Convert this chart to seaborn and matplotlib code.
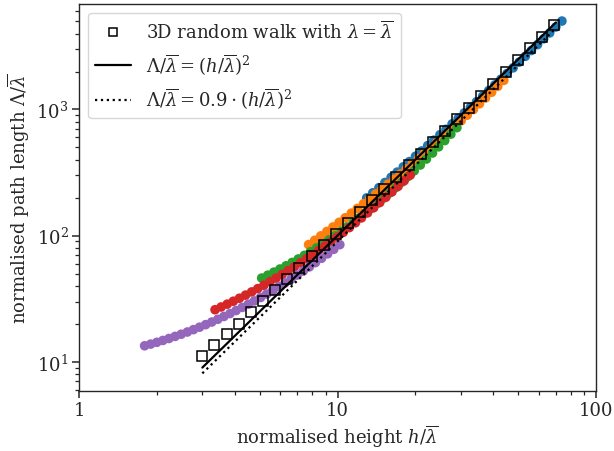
import matplotlib
matplotlib.use("Agg")
import matplotlib.pyplot as plt
import seaborn as sns
import pandas as pd

sns.set_style("ticks")
plt.rcParams["font.family"] = ["DejaVu Serif"]
plt.rcParams["mathtext.fontset"] = "dejavuserif"
plt.rcParams["axes.linewidth"] = 1.0

# ---- data ----
series_names = ["s1", "s2", "s3", "s4", "s5"]
series_colors = ["#1f77b4", "#ff7f0e", "#2ca02c", "#d62728", "#9467bd"]

h_s1 = [12.97, 13.69, 14.46, 15.26, 16.12, 17.02, 17.97, 18.98, 20.03, 21.15, 22.33,
        23.58, 24.90, 26.29, 27.75, 29.30, 30.94, 32.67, 34.49, 36.42, 38.45, 40.60,
        42.87, 45.26, 47.79, 50.46, 53.28, 56.25, 59.39, 62.71, 66.21, 69.91, 73.82]
L_s1 = [199.1, 218.5, 240.0, 263.8, 290.0, 319.0, 351.1, 386.5, 425.8, 469.2, 517.4,
        570.8, 630.1, 695.8, 768.7, 849.5, 939.6, 1039.5, 1150.8, 1274.4, 1412.3, 1565.0,
        1736.4, 1927.4, 2139.1, 2375.4, 2640.0, 2935.4, 3265.8, 3634.4, 4046.5, 4507.8, 5023.6]

h_s2 = [7.730, 8.161, 8.617, 9.097, 9.605, 10.14, 10.71, 11.31, 11.94, 12.61, 13.31,
        14.05, 14.84, 15.67, 16.54, 17.47, 18.44, 19.47, 20.56, 21.71, 22.92, 24.20,
        25.55, 26.98, 28.48, 30.07, 31.75, 33.53, 35.40, 37.38, 39.46, 41.67, 43.99]
L_s2 = [84.92, 91.92, 99.60, 108.0, 117.2, 127.4, 138.5, 150.8, 164.3, 179.2, 195.6,
        213.7, 233.7, 255.8, 280.3, 307.4, 337.4, 370.7, 407.7, 448.6, 494.3, 545.2,
        601.7, 664.7, 735.2, 813.9, 901.6, 999.8, 1110.0, 1232.9, 1371.1, 1526.0, 1700.3]

h_s3 = [5.090, 5.374, 5.674, 5.990, 6.325, 6.679, 7.051, 7.447, 7.862, 8.302, 8.764,
        9.254, 9.770, 10.32, 10.89, 11.50, 12.14, 12.82, 13.54, 14.29, 15.09, 15.93,
        16.82, 17.76, 18.76, 19.80, 20.91, 22.08, 23.31, 24.61, 25.99, 27.44, 28.97]
L_s3 = [46.13, 48.62, 51.37, 54.38, 57.69, 61.32, 65.35, 69.77, 74.65, 80.04, 86.01,
        92.64, 99.95, 108.1, 117.1, 127.2, 138.5, 151.0, 165.1, 180.8, 198.5, 218.3,
        240.7, 265.9, 294.5, 326.6, 363.2, 404.7, 451.9, 505.7, 567.1, 637.4, 717.7]

h_s4 = [3.360, 3.547, 3.745, 3.954, 4.175, 4.409, 4.655, 4.916, 5.190, 5.480, 5.786,
        6.108, 6.450, 6.809, 7.190, 7.592, 8.014, 8.463, 8.935, 9.435, 9.962, 10.52,
        11.11, 11.73, 12.38, 13.07, 13.80, 14.57, 15.39, 16.25, 17.15, 18.11, 19.12]
L_s4 = [25.88, 27.20, 28.64, 30.21, 31.91, 33.77, 35.81, 38.04, 40.46, 43.13, 46.05,
        49.25, 52.78, 56.64, 60.90, 65.59, 70.78, 76.48, 82.79, 89.77, 97.56, 106.2,
        115.8, 126.5, 138.3, 151.6, 166.4, 183.0, 201.7, 222.5, 246.1, 272.5, 302.3]

h_s5 = [1.794, 1.894, 2.000, 2.111, 2.229, 2.354, 2.485, 2.625, 2.771, 2.926, 3.089,
        3.262, 3.444, 3.636, 3.839, 4.053, 4.279, 4.519, 4.770, 5.038, 5.319, 5.616,
        5.929, 6.261, 6.610, 6.980, 7.369, 7.781, 8.215, 8.674, 9.158, 9.670, 10.21]
L_s5 = [13.40, 13.82, 14.27, 14.77, 15.31, 15.90, 16.54, 17.23, 17.99, 18.81, 19.70,
        20.67, 21.73, 22.88, 24.13, 25.50, 26.99, 28.62, 30.39, 32.33, 34.46, 36.80,
        39.36, 42.17, 45.26, 48.65, 52.41, 56.55, 61.10, 66.16, 71.75, 77.94, 84.82]

# 3D random walk (squares)
h_rw = [3.000, 3.342, 3.724, 4.149, 4.622, 5.150, 5.737, 6.392, 7.121, 7.934,
        8.839, 9.849, 10.97, 12.22, 13.62, 15.18, 16.90, 18.84, 20.98, 23.38,
        26.05, 29.02, 32.33, 36.03, 40.13, 44.72, 49.82, 55.51, 61.83, 68.89]
L_rw = [11.2, 13.5, 16.5, 20.1, 24.7, 30.2, 37.2, 45.6, 55.8, 68.6,
        84.4, 103.8, 126.9, 155.3, 191.1, 236.2, 291.3, 360.3, 444.6, 549.3,
        678.6, 838.0, 1035.0, 1285.0, 1594.0, 1980.0, 2457.0, 3050.0, 3785.0, 4684.0]

# reference power laws (end points)
h_line = [3.0, 70.0]
L_line = [9.0, 4900.0]
L_line09 = [8.1, 4410.0]

x_ticks = [1, 10, 100]
x_tick_labels = ["1", "10", "100"]

lab_rw = r"3D random walk with $\lambda = \overline{\lambda}$"
lab_line = r"$\Lambda/\overline{\lambda} = (h/\overline{\lambda})^2$"
lab_line09 = r"$\Lambda/\overline{\lambda} = 0.9 \cdot (h/\overline{\lambda})^2$"

# ---- build long table for circles ----
all_h = [h_s1, h_s2, h_s3, h_s4, h_s5]
all_L = [L_s1, L_s2, L_s3, L_s4, L_s5]
frames = []
for name, hh, LL in zip(series_names, all_h, all_L):
    frames.append(pd.DataFrame({"h": hh, "L": LL, "series": name}))
df = pd.concat(frames, ignore_index=True)

fig = plt.figure(figsize=(6.14, 4.52), dpi=100)
ax = fig.add_axes([79 / 614, 1 - 392 / 452, (596 - 79) / 614, (392 - 4.5) / 452])

sns.scatterplot(data=df, x="h", y="L", hue="series", palette=series_colors,
                hue_order=series_names, s=48, linewidth=0, legend=False, ax=ax,
                zorder=2)

sns.lineplot(x=h_rw, y=L_rw, marker="s", linestyle="", markersize=6.5,
             markerfacecolor="none", markeredgecolor="black", markeredgewidth=1.1,
             color="black", label=lab_rw, ax=ax, zorder=3)
sns.lineplot(x=h_line, y=L_line, color="black", linewidth=1.6, label=lab_line,
             ax=ax, zorder=4)
sns.lineplot(x=h_line, y=L_line09, color="black", linewidth=1.6, linestyle=":",
             label=lab_line09, ax=ax, zorder=4)

ax.set_xscale("log")
ax.set_yscale("log")
ax.set_xlim(1, 100)
ax.set_ylim(5.87, 6920)
ax.set_xticks(x_ticks)
ax.set_xticklabels(x_tick_labels)
ax.tick_params(axis="both", which="major", labelsize=13, length=5, width=1.1, pad=2.5)
ax.tick_params(axis="both", which="minor", length=3, width=0.9)

ax.set_xlabel(r"normalised height $h/\overline{\lambda}$", fontsize=13, labelpad=2)
ax.set_ylabel(r"normalised path length $\Lambda/\overline{\lambda}$", fontsize=13,
              labelpad=3)

ax.legend(loc="upper left", fontsize=13, markerscale=0.8)

fig.savefig("out.png", dpi=100)
